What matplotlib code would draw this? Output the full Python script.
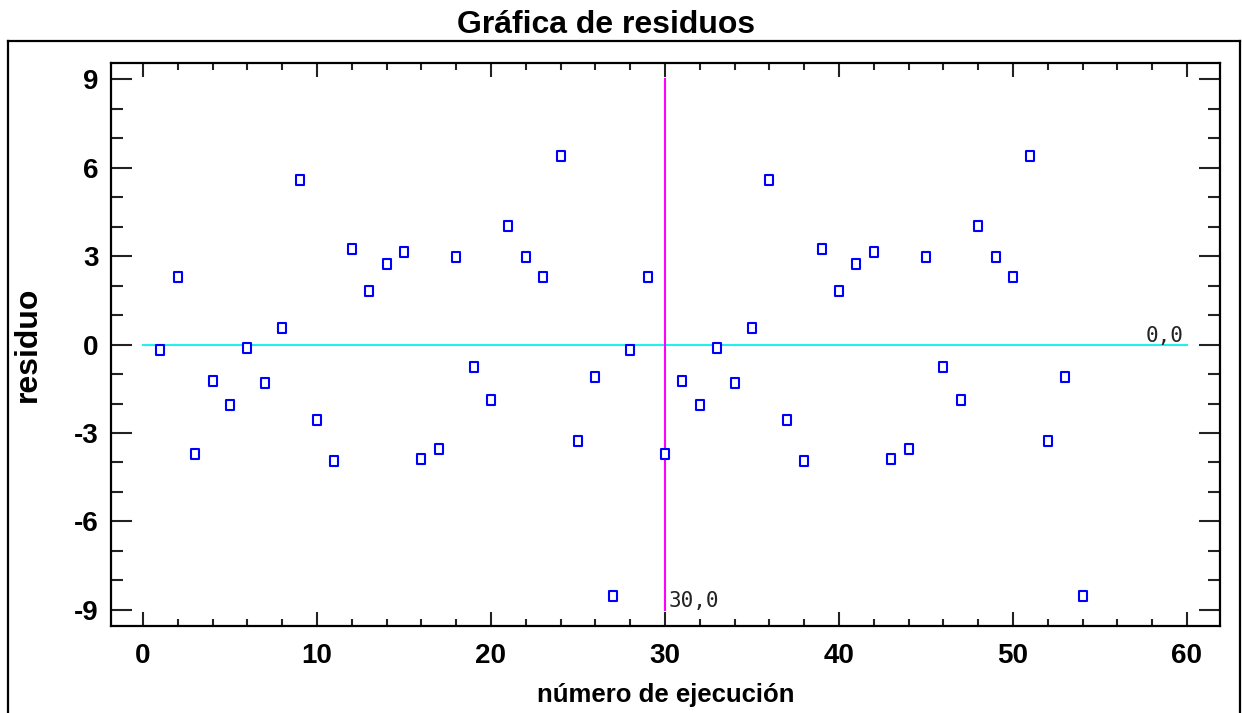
import matplotlib
matplotlib.use("Agg")
import matplotlib.pyplot as plt
from matplotlib.path import Path
from matplotlib.lines import Line2D
from matplotlib.ticker import MultipleLocator

plt.rcParams["axes.unicode_minus"] = False

# residuals, run 1..54
run_number = list(range(1, 55))
residual = [
    -0.17, 2.30, -3.70, -1.22, -2.04, -0.10, -1.29, 0.58, 5.60, -2.55,
    -3.94, 3.23, 1.83, 2.75, 3.16, -3.87, -3.53, 2.99, -0.75, -1.87,
    4.04, 2.96, 2.31, 6.42, -3.26, -1.09, -8.53, -0.17, 2.31, -3.70,
    -1.22, -2.04, -0.10, -1.29, 0.58, 5.60, -2.55, -3.94, 3.23, 1.83,
    2.75, 3.16, -3.87, -3.53, 2.99, -0.75, -1.87, 4.04, 2.96, 2.31,
    6.42, -3.26, -1.09, -8.53,
]
zero_line_x = [0, 60]
zero_line_y = [0, 0]
cursor_x = 30
cursor_y = [-9, 9]

W, H = 1242, 713
fig = plt.figure(figsize=(W / 100, H / 100), dpi=100)

# outer frame around the plot area
frame_kw = dict(color="black", lw=1.6, transform=fig.transFigure)
fig.add_artist(Line2D([8 / W, 8 / W], [0, 1 - 41 / H], **frame_kw))
fig.add_artist(Line2D([8 / W, 1240 / W], [1 - 41 / H, 1 - 41 / H], **frame_kw))
fig.add_artist(Line2D([1240 / W, 1240 / W], [0, 1 - 41 / H], **frame_kw))

ax = fig.add_axes([111 / W, (H - 626) / H, (1220 - 111) / W, (626 - 63) / H])

# slightly tall hollow squares like the original
rect = Path([(-0.8, -1), (0.8, -1), (0.8, 1), (-0.8, 1), (-0.8, -1)],
            [Path.MOVETO, Path.LINETO, Path.LINETO, Path.LINETO, Path.CLOSEPOLY])

ax.plot(zero_line_x, zero_line_y, color="#20f0f0", lw=1.5, zorder=2)
ax.plot([cursor_x, cursor_x], cursor_y, color="#ff00ff", lw=1.5, zorder=2)
ax.plot(run_number, residual, linestyle="none", marker=rect, ms=6.5,
        mfc="white", mec="#0000ff", mew=1.5, zorder=3)

ax.text(30.2, -9.05, "30,0", family="DejaVu Sans Mono", fontsize=15,
        color="#222222", ha="left", va="bottom")
ax.text(57.6, 0.29, "0,0", family="DejaVu Sans Mono", fontsize=15,
        color="#222222", ha="left", va="center")

ax.set_xlim(-1.84, 61.9)
ax.set_ylim(-9.55, 9.56)
ax.xaxis.set_major_locator(MultipleLocator(10))
ax.xaxis.set_minor_locator(MultipleLocator(2))
ax.yaxis.set_major_locator(MultipleLocator(3))
ax.yaxis.set_minor_locator(MultipleLocator(1))

for s in ax.spines.values():
    s.set_linewidth(1.6)

tick_font = ["Liberation Sans Narrow", "Liberation Sans", "DejaVu Sans"]
ax.tick_params(axis="both", which="both", direction="in", width=1.5,
               top=True, right=True, color="#222222")
ax.tick_params(axis="x", which="major", length=10, pad=12)
ax.tick_params(axis="x", which="minor", length=5)
ax.tick_params(axis="y", which="major", length=15, pad=9)
ax.tick_params(axis="y", which="minor", length=8.5)
for lab in ax.get_xticklabels() + ax.get_yticklabels():
    lab.set_family(tick_font)
    lab.set_fontweight("bold")
    lab.set_fontsize(20)

label_font = ["Liberation Sans", "DejaVu Sans"]
ax.set_xlabel("número de ejecución", family=label_font, fontweight="bold",
              fontsize=18.5, labelpad=10)
ax.set_ylabel("residuo", family=label_font, fontweight="bold",
              fontsize=23, labelpad=22)

fig.text(606 / W, 1 - 33 / H, "Gráfica de residuos", family=label_font,
         fontweight="bold", fontsize=23, ha="center", va="baseline")

fig.savefig("out.png", dpi=100)
